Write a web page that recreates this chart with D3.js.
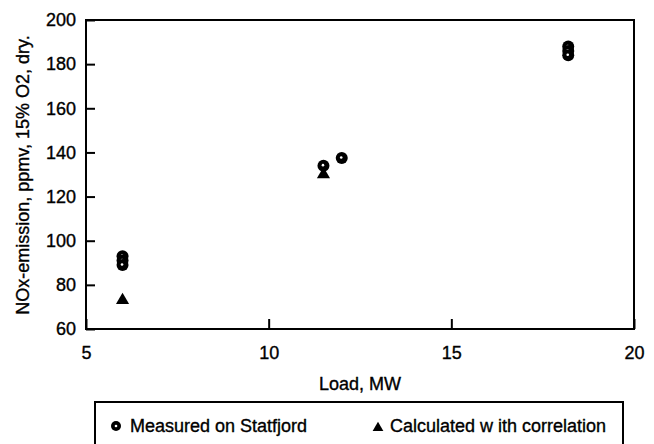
<!DOCTYPE html>
<html>
<head>
<meta charset="utf-8">
<style>
body { margin: 0; background: #fff; }
text { font-family: "Liberation Sans", Arial, sans-serif; fill: #000; stroke: #000; stroke-width: 0.35px; }
</style>
</head>
<body>
<script src="https://cdn.jsdelivr.net/npm/d3@7"></script>
<script>
// measured values (load MW, NOx ppmv)
var measuredLoad = [6, 6, 6, 11.5, 12, 18.2, 18.2, 18.2];
var measuredNox  = [93, 91, 89, 134, 137.5, 188, 186, 184];
// calculated with correlation
var calcLoad = [6, 11.5];
var calcNox  = [73, 130];

var xTicks = [5, 10, 15, 20];
var yTicks = [60, 80, 100, 120, 140, 160, 180, 200];

var width = 654, height = 444;
var margin = {left: 86, top: 20, right: 20, bottom: 115};

var svg = d3.select("body").append("svg")
    .attr("width", width)
    .attr("height", height);

var x = d3.scaleLinear().domain([5, 20]).range([margin.left, width - margin.right]);
var y = d3.scaleLinear().domain([60, 200]).range([height - margin.bottom, margin.top]);

// frame
svg.append("rect")
    .attr("x", x(5)).attr("y", y(200))
    .attr("width", x(20) - x(5)).attr("height", y(60) - y(200))
    .attr("fill", "none").attr("stroke", "#000").attr("stroke-width", 2);

// y axis, ticks inward
var yAxis = svg.append("g")
    .attr("transform", "translate(" + x(5) + ",0)")
    .call(d3.axisLeft(y).tickValues(yTicks).tickSize(-9).tickPadding(10));
yAxis.select(".domain").remove();
yAxis.selectAll("line").attr("stroke-width", 2);
yAxis.selectAll("text").style("font-size", "18px").style("font-family", "Liberation Sans, Arial, sans-serif");

// x axis, ticks inward
var xAxis = svg.append("g")
    .attr("transform", "translate(0," + y(60) + ")")
    .call(d3.axisBottom(x).tickValues(xTicks).tickSize(-10).tickPadding(17));
xAxis.select(".domain").remove();
xAxis.selectAll("line").attr("stroke-width", 2);
xAxis.selectAll("text").style("font-size", "18px").style("font-family", "Liberation Sans, Arial, sans-serif");

// axis titles
svg.append("text")
    .attr("x", (x(5) + x(20)) / 2)
    .attr("y", 390)
    .attr("text-anchor", "middle")
    .style("font-size", "18px")
    .text("Load, MW");

svg.append("text")
    .attr("transform", "translate(29,175) rotate(-90)")
    .attr("text-anchor", "middle")
    .style("font-size", "18px")
    .text("NOx-emission, ppmv, 15% O2, dry.");

var tri = d3.symbol().type(d3.symbolTriangle).size(75);

// calculated triangles
svg.append("g").selectAll("path")
    .data(calcLoad)
    .enter().append("path")
    .attr("d", tri)
    .attr("transform", function(d, i) { return "translate(" + x(d) + "," + y(calcNox[i]) + ")"; })
    .attr("fill", "#000");

// measured circles: black with a little white dot
var meas = svg.append("g").selectAll("g")
    .data(measuredLoad)
    .enter().append("g")
    .attr("transform", function(d, i) { return "translate(" + x(d) + "," + y(measuredNox[i]) + ")"; });
meas.append("circle").attr("r", 6).attr("fill", "#000");
meas.append("circle").attr("r", 1.3).attr("cx", -0.5).attr("cy", -0.5).attr("fill", "#fff");

// legend
var lg = svg.append("g");
lg.append("rect")
    .attr("x", 95).attr("y", 402)
    .attr("width", 528).attr("height", 50)
    .attr("fill", "none").attr("stroke", "#000").attr("stroke-width", 2);
lg.append("circle").attr("cx", 116).attr("cy", 426).attr("r", 5).attr("fill", "#000");
lg.append("circle").attr("cx", 116).attr("cy", 426).attr("r", 1.3).attr("fill", "#fff");
lg.append("text").attr("x", 130).attr("y", 432).style("font-size", "18px").text("Measured on Statfjord");
lg.append("path").attr("d", d3.symbol().type(d3.symbolTriangle).size(50))
    .attr("transform", "translate(378,428)").attr("fill", "#000");
lg.append("text").attr("x", 390).attr("y", 432).style("font-size", "18px").text("Calculated w ith correlation");
</script>
</body>
</html>
